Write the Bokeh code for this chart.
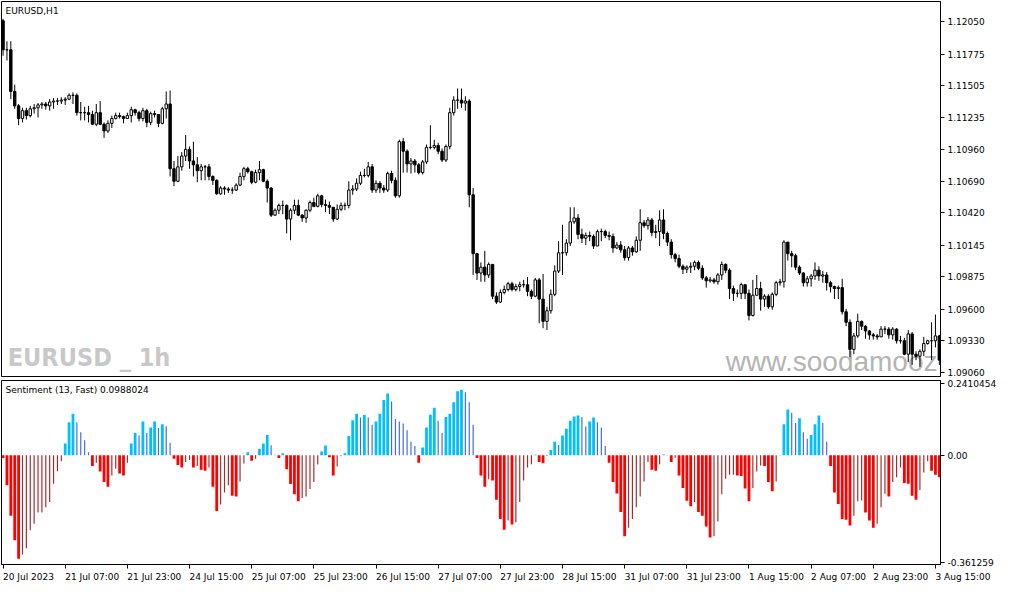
from bokeh.plotting import figure
from bokeh.models import Range1d, FixedTicker, Label, PrintfTickFormatter
from bokeh.layouts import column
from bokeh.embed import file_html
from bokeh.resources import INLINE

# ---------------- data (EURUSD H1) ----------------
first_open = 1.12058
close = [
1.11811,1.11811,1.11456,1.11333,1.11225,1.11292,1.11250,1.11308,1.11317,1.11341,
1.11349,1.11333,1.11366,1.11374,1.11374,1.11382,1.11390,1.11423,1.11423,1.11275,
1.11275,1.11275,1.11259,1.11176,1.11275,1.11176,1.11119,1.11184,1.11225,1.11250,
1.11242,1.11225,1.11250,1.11300,1.11275,1.11225,1.11292,1.11192,1.11267,1.11259,
1.11184,1.11308,1.11349,1.10797,1.10690,1.10813,1.10905,1.10962,1.10863,1.10830,
1.10780,1.10813,1.10813,1.10731,1.10698,1.10583,1.10632,1.10624,1.10615,1.10615,
1.10657,1.10731,1.10797,1.10772,1.10682,1.10764,1.10789,1.10690,1.10632,1.10401,
1.10443,1.10484,1.10484,1.10368,1.10443,1.10484,1.10401,1.10377,1.10443,1.10509,
1.10476,1.10566,1.10492,1.10484,1.10468,1.10368,1.10451,1.10484,1.10484,1.10615,
1.10624,1.10673,1.10740,1.10740,1.10813,1.10615,1.10673,1.10632,1.10615,1.10756,
1.10698,1.10566,1.11028,1.10946,1.10838,1.10863,1.10830,1.10764,1.10855,1.10979,
1.10979,1.10995,1.10946,1.10871,1.10987,1.11275,1.11382,1.11382,1.11357,1.11374,
1.10575,1.10072,1.09907,1.09957,1.09891,1.09981,1.09710,1.09660,1.09742,1.09767,
1.09816,1.09767,1.09792,1.09808,1.09808,1.09751,1.09710,1.09849,1.09685,1.09495,
1.09586,1.09726,1.09924,1.10080,1.10080,1.10163,1.10344,1.10377,1.10237,1.10204,
1.10228,1.10220,1.10138,1.10261,1.10261,1.10228,1.10220,1.10121,1.10146,1.10105,
1.10039,1.10121,1.10088,1.10187,1.10336,1.10311,1.10360,1.10253,1.10261,1.10360,
1.10245,1.10171,1.10064,1.10031,1.09965,1.09940,1.09957,1.09965,1.09998,1.09948,
1.09866,1.09841,1.09849,1.09833,1.09891,1.09981,1.09932,1.09775,1.09734,1.09734,
1.09808,1.09734,1.09545,1.09718,1.09775,1.09685,1.09710,1.09619,1.09726,1.09825,
1.09833,1.10171,1.10072,1.10055,1.09957,1.09907,1.09825,1.09858,1.09882,1.09932,
1.09882,1.09891,1.09825,1.09792,1.09775,1.09783,1.09577,1.09487,1.09256,1.09371,
1.09495,1.09454,1.09413,1.09380,1.09371,1.09363,1.09429,1.09429,1.09380,1.09429,
1.09330,1.09330,1.09215,1.09388,1.09215,1.09198,1.09240,1.09306,1.09330,1.09330,
1.09371,1.09165]
high = [
1.12075,1.11884,1.11884,1.11514,1.11349,1.11317,1.11317,1.11333,1.11349,1.11357,
1.11366,1.11366,1.11390,1.11399,1.11399,1.11407,1.11407,1.11439,1.11448,1.11439,
1.11366,1.11325,1.11333,1.11292,1.11349,1.11374,1.11192,1.11209,1.11250,1.11275,
1.11275,1.11250,1.11275,1.11325,1.11308,1.11292,1.11317,1.11308,1.11284,1.11292,
1.11259,1.11325,1.11456,1.11464,1.10863,1.10905,1.10938,1.11085,1.10987,1.11028,
1.10896,1.10838,1.10830,1.10838,1.10740,1.10706,1.10648,1.10648,1.10640,1.10640,
1.10673,1.10764,1.10813,1.10813,1.10780,1.10789,1.10863,1.10797,1.10706,1.10640,
1.10459,1.10500,1.10525,1.10492,1.10459,1.10533,1.10533,1.10410,1.10451,1.10525,
1.10550,1.10583,1.10575,1.10533,1.10517,1.10468,1.10492,1.10509,1.10509,1.10690,
1.10657,1.10715,1.10772,1.10797,1.10855,1.10838,1.10698,1.10690,1.10657,1.10772,
1.10780,1.10723,1.11044,1.11060,1.10962,1.10888,1.10880,1.10846,1.10871,1.11003,
1.11168,1.11044,1.11019,1.10970,1.11003,1.11317,1.11415,1.11481,1.11481,1.11415,
1.11390,1.10632,1.10080,1.09998,1.10097,1.09998,1.09973,1.09742,1.09767,1.09800,
1.09833,1.09833,1.09816,1.09833,1.09849,1.09874,1.09767,1.09866,1.09866,1.09899,
1.09619,1.09767,1.09973,1.10179,1.10319,1.10196,1.10468,1.10468,1.10410,1.10286,
1.10253,1.10261,1.10237,1.10278,1.10286,1.10278,1.10261,1.10245,1.10171,1.10179,
1.10138,1.10138,1.10138,1.10220,1.10451,1.10360,1.10385,1.10377,1.10319,1.10443,
1.10451,1.10261,1.10196,1.10080,1.10064,1.09981,1.09973,1.09998,1.10014,1.10014,
1.09973,1.09882,1.09874,1.09866,1.09907,1.10006,1.09990,1.09948,1.09800,1.09767,
1.09825,1.09808,1.09767,1.09849,1.09891,1.09833,1.09726,1.09726,1.09742,1.09841,
1.09858,1.10187,1.10171,1.10097,1.10072,1.09973,1.09915,1.09882,1.09899,1.09998,
1.09965,1.09924,1.09915,1.09841,1.09800,1.09800,1.09858,1.09602,1.09512,1.09396,
1.09561,1.09503,1.09462,1.09421,1.09396,1.09388,1.09454,1.09454,1.09446,1.09446,
1.09437,1.09371,1.09355,1.09421,1.09404,1.09240,1.09256,1.09363,1.09339,1.09487,
1.09553,1.09380]
low = [
1.11761,1.11720,1.11390,1.11308,1.11168,1.11192,1.11217,1.11234,1.11267,1.11234,
1.11308,1.11300,1.11292,1.11308,1.11341,1.11349,1.11341,1.11382,1.11349,1.11250,
1.11209,1.11209,1.11192,1.11168,1.11160,1.11168,1.11060,1.11102,1.11143,1.11217,
1.11225,1.11184,1.11225,1.11192,1.11250,1.11201,1.11201,1.11151,1.11168,1.11234,
1.11151,1.11176,1.11225,1.10731,1.10648,1.10682,1.10780,1.10863,1.10797,1.10731,
1.10682,1.10698,1.10698,1.10698,1.10657,1.10575,1.10575,1.10575,1.10591,1.10583,
1.10607,1.10648,1.10698,1.10756,1.10665,1.10673,1.10698,1.10682,1.10509,1.10385,
1.10393,1.10410,1.10410,1.10245,1.10187,1.10410,1.10393,1.10344,1.10336,1.10426,
1.10468,1.10468,1.10468,1.10426,1.10410,1.10344,1.10360,1.10435,1.10443,1.10459,
1.10575,1.10607,1.10657,1.10723,1.10723,1.10591,1.10591,1.10591,1.10591,1.10599,
1.10673,1.10550,1.10550,1.10764,1.10764,1.10756,1.10764,1.10748,1.10748,1.10838,
1.10962,1.10962,1.10921,1.10855,1.10855,1.10962,1.11250,1.11308,1.11317,1.11292,
1.10468,1.09891,1.09849,1.09833,1.09833,1.09866,1.09685,1.09644,1.09652,1.09726,
1.09751,1.09751,1.09751,1.09751,1.09783,1.09710,1.09685,1.09701,1.09479,1.09437,
1.09421,1.09561,1.09710,1.09907,1.09891,1.10055,1.10138,1.10327,1.10196,1.10163,
1.10146,1.10179,1.10113,1.10179,1.10179,1.10204,1.10187,1.10080,1.10113,1.10080,
1.10014,1.10014,1.10055,1.10080,1.10097,1.10294,1.10278,1.10220,1.10204,1.10138,
1.10196,1.10138,1.10031,1.09998,1.09948,1.09899,1.09907,1.09907,1.09932,1.09932,
1.09849,1.09783,1.09825,1.09816,1.09808,1.09849,1.09907,1.09685,1.09669,1.09701,
1.09685,1.09685,1.09503,1.09537,1.09726,1.09586,1.09619,1.09602,1.09594,1.09710,
1.09800,1.09783,1.10014,1.09957,1.09932,1.09891,1.09792,1.09792,1.09792,1.09849,
1.09841,1.09825,1.09759,1.09742,1.09685,1.09685,1.09553,1.09454,1.09190,1.09215,
1.09355,1.09421,1.09347,1.09339,1.09339,1.09339,1.09371,1.09388,1.09347,1.09339,
1.09306,1.09306,1.09207,1.09149,1.09124,1.09165,1.09108,1.09198,1.09297,1.09165,
1.09273,1.09124]
sentiment = [
-0.009,-0.101,-0.204,-0.286,-0.349,-0.334,-0.313,-0.253,-0.231,-0.193,
-0.193,-0.175,-0.157,-0.096,-0.054,-0.020,0.040,0.111,0.140,0.111,
0.078,0.051,0.010,-0.036,-0.025,-0.055,-0.090,-0.106,-0.068,-0.045,
-0.061,-0.068,-0.025,0.040,0.075,0.067,0.114,0.075,0.094,0.114,
0.092,0.105,0.098,0.042,-0.012,-0.033,-0.041,-0.023,-0.016,-0.041,
-0.036,-0.049,-0.052,-0.041,-0.106,-0.188,-0.166,-0.125,-0.101,-0.136,
-0.139,-0.088,-0.028,0.010,-0.018,-0.012,0.021,0.040,0.068,0.034,
0.002,-0.009,0.007,-0.047,-0.097,-0.131,-0.155,-0.144,-0.139,-0.114,
-0.090,-0.031,0.013,0.033,-0.007,-0.068,-0.038,-0.003,0.007,0.065,
0.118,0.140,0.127,0.136,0.127,0.103,0.114,0.140,0.186,0.208,
0.181,0.122,0.114,0.107,0.084,0.046,0.031,-0.025,0.026,0.094,
0.137,0.160,0.116,0.075,0.129,0.140,0.179,0.216,0.221,0.212,
0.179,0.103,-0.009,-0.068,-0.106,-0.081,-0.085,-0.150,-0.215,-0.251,
-0.220,-0.233,-0.226,-0.157,-0.085,-0.041,-0.030,0.002,-0.023,-0.027,
-0.002,0.018,0.046,0.035,0.067,0.089,0.116,0.131,0.134,0.129,
0.097,0.114,0.127,0.111,0.094,0.031,-0.025,-0.090,-0.129,-0.191,
-0.273,-0.244,-0.215,-0.175,-0.139,-0.088,-0.023,-0.049,-0.052,-0.030,
0.003,0.001,-0.023,-0.008,-0.068,-0.110,-0.153,-0.172,-0.157,-0.191,
-0.204,-0.240,-0.277,-0.273,-0.223,-0.131,-0.079,-0.066,-0.066,-0.068,
-0.070,-0.112,-0.155,-0.110,-0.055,-0.034,-0.036,-0.090,-0.121,-0.088,
0.001,0.105,0.154,0.143,0.109,0.125,0.078,0.056,0.068,0.105,
0.134,0.109,0.046,-0.036,-0.125,-0.164,-0.215,-0.217,-0.237,-0.204,
-0.155,-0.152,-0.193,-0.220,-0.244,-0.231,-0.175,-0.130,-0.139,-0.090,
-0.074,-0.041,-0.093,-0.096,-0.136,-0.150,-0.117,-0.058,-0.020,-0.052,
-0.066,-0.074]
time_tick_bars = [0, 16, 32, 48, 64, 80, 96, 112, 128, 144, 160, 176, 192, 208, 224, 240]
time_tick_labels = ["20 Jul 2023", "21 Jul 07:00", "21 Jul 23:00", "24 Jul 15:00",
                    "25 Jul 07:00", "25 Jul 23:00", "26 Jul 15:00", "27 Jul 07:00",
                    "27 Jul 23:00", "28 Jul 15:00", "31 Jul 07:00", "31 Jul 23:00",
                    "1 Aug 15:00", "2 Aug 07:00", "2 Aug 23:00", "3 Aug 15:00"]
price_ticks = [1.09060, 1.09330, 1.09600, 1.09875, 1.10145, 1.10420,
               1.10690, 1.10960, 1.11235, 1.11505, 1.11775, 1.12050]
sent_ticks = [-0.361259, 0.0, 0.2410454]
sent_tick_labels = ["-0.361259", "0.00", "0.2410454"]

# ---------------- derived drawing columns ----------------
n = len(close)
idx = list(range(n))
opens = [first_open] + close[:-1]
body_top = [max(o, c) for o, c in zip(opens, close)]
body_bot = [min(o, c) for o, c in zip(opens, close)]
wick_hi = [max(h, o, c) for h, o, c in zip(high, opens, close)]
wick_lo = [min(l, o, c) for l, o, c in zip(low, opens, close)]
body_col = ["white" if c >= o else "black" for o, c in zip(opens, close)]

thick_x, thick_v, thick_c = [], [], []
thin_x, thin_v, thin_c = [], [], []
prev = None
for i, v in enumerate(sentiment):
    rising = prev is None or ((v >= 0) != (prev >= 0)) or abs(v) > abs(prev)
    if rising:
        thick_x.append(i); thick_v.append(v)
        thick_c.append("#00BFFF" if v >= 0 else "#FF0000")
    else:
        thin_x.append(i); thin_v.append(v)
        thin_c.append("#4169E1" if v >= 0 else "#A52A2A")
    prev = v

FONT = "DejaVu Sans"
FS = "9px"
W = 999
xr = Range1d(-0.4, 241.3)
price_lo, price_hi = 1.09025, 1.12223

# ---------------- price panel ----------------
p1 = figure(width=W, height=378, x_range=xr, y_range=Range1d(price_lo, price_hi),
            output_backend="svg", toolbar_location=None, x_axis_location=None,
            y_axis_location="right", min_border_left=1, min_border_right=56,
            min_border_top=1, min_border_bottom=2)
p1.grid.visible = False
p1.outline_line_color = "black"
p1.background_fill_color = "white"
p1.border_fill_color = "white"
ax = p1.yaxis[0]
ax.ticker = FixedTicker(ticks=price_ticks)
ax.formatter = PrintfTickFormatter(format="%.5f")
ax.major_tick_out = 4
ax.major_tick_in = 0
ax.minor_tick_out = 0
ax.minor_tick_in = 0
ax.axis_line_color = "black"
ax.major_label_text_font = FONT
ax.major_label_text_font_size = FS
ax.major_label_text_color = "black"
ax.major_label_standoff = 3

p1.add_layout(Label(x=1.2, y=price_lo, y_offset=5, text="EURUSD _ 1h",
                    text_font="DejaVu Sans Condensed", text_font_style="bold",
                    text_font_size="25px", text_color="#C8C8C8",
                    text_baseline="bottom", level="underlay"))
p1.add_layout(Label(x=241.3, y=price_lo, x_offset=-3, y_offset=0, text="www.soodamooz",
                    text_font="Liberation Sans", text_font_size="28px",
                    text_color="#B4B4B4", text_align="right",
                    text_baseline="bottom", level="underlay"))

p1.segment(x0=idx, y0=wick_hi, x1=idx, y1=wick_lo, line_color="black", line_width=1)
p1.vbar(x=idx, width=0.62, top=body_top, bottom=body_bot, fill_color=body_col,
        line_color="black", line_width=1)

p1.add_layout(Label(x=-0.4, y=price_hi, x_offset=4, y_offset=-4, text="EURUSD,H1",
                    text_font=FONT, text_font_size=FS, text_color="black",
                    text_baseline="top"))

# ---------------- sentiment panel ----------------
p2 = figure(width=W, height=211, x_range=xr, y_range=Range1d(-0.368, 0.252),
            output_backend="svg", toolbar_location=None, y_axis_location="right",
            min_border_left=1, min_border_right=56, min_border_top=2,
            min_border_bottom=23)
p2.grid.visible = False
p2.outline_line_color = "black"
p2.background_fill_color = "white"
p2.border_fill_color = "white"

p2.vbar(x=thick_x, width=0.72, top=thick_v, bottom=0, fill_color=thick_c, line_color=None)
p2.vbar(x=thin_x, width=0.3, top=thin_v, bottom=0, fill_color=thin_c, line_color=None)

ay = p2.yaxis[0]
ay.ticker = FixedTicker(ticks=sent_ticks)
ay.major_label_overrides = {t: s for t, s in zip(sent_ticks, sent_tick_labels)}
for a in (ay, p2.xaxis[0]):
    a.major_tick_out = 4
    a.major_tick_in = 0
    a.minor_tick_out = 0
    a.minor_tick_in = 0
    a.axis_line_color = "black"
    a.major_label_text_font = FONT
    a.major_label_text_font_size = FS
    a.major_label_text_color = "black"
ay.major_label_standoff = 3

axx = p2.xaxis[0]
axx.ticker = FixedTicker(ticks=time_tick_bars)
axx.major_label_overrides = {b: s for b, s in zip(time_tick_bars, time_tick_labels)}
axx.major_label_orientation = -0.0001   # tiny angle -> labels start at their tick
axx.major_label_standoff = 8

p2.add_layout(Label(x=-0.4, y=0.252, x_offset=4, y_offset=-4,
                    text="Sentiment (13, Fast) 0.0988024",
                    text_font=FONT, text_font_size=FS, text_color="black",
                    text_baseline="top"))

layout = column(p1, p2, spacing=0)
open("out.html", "w").write(file_html(layout, INLINE))
